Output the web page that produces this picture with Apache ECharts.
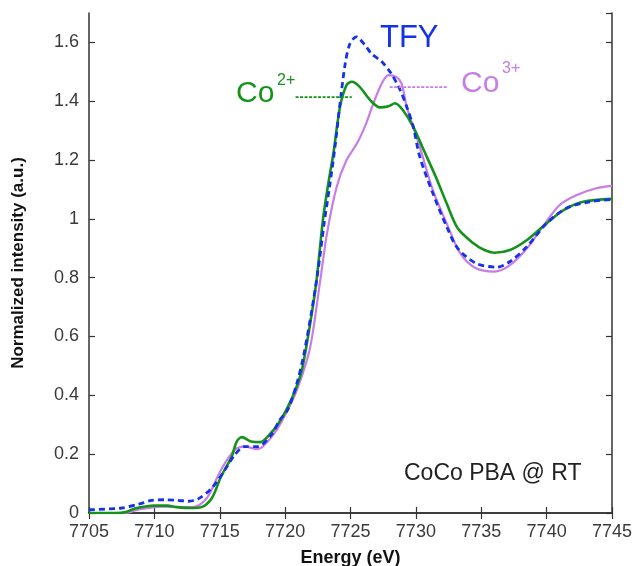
<!DOCTYPE html>
<html>
<head>
<meta charset="utf-8">
<script src="https://cdn.jsdelivr.net/npm/echarts@6/dist/echarts.min.js"></script>
<style>
  html, body { margin: 0; padding: 0; background: #fff; }
  #chart { width: 635px; height: 566px; }
</style>
</head>
<body>
<div id="chart"></div>
<script>
// Co2+ reference (green)
const co2Energy = [7705, 7707, 7707.8, 7708.5, 7709.3, 7710, 7711, 7711.7, 7712.8, 7713.6, 7714.4, 7715.1, 7715.9, 7716.3, 7716.7, 7717.4, 7718.1, 7718.8, 7719.5, 7720.2, 7720.8, 7721.3, 7721.9, 7722.4, 7722.9, 7723.3, 7723.7, 7724.2, 7724.7, 7725.1, 7725.7, 7726.5, 7727.25, 7727.9, 7728.4, 7729.0, 7729.8, 7730.6, 7731.6, 7732.35, 7733.2, 7734.4, 7735.2, 7736.0, 7737.2, 7738.5, 7740.0, 7741.3, 7742.8, 7745];
const co2Value = [0.0, 0.0, 0.003, 0.015, 0.022, 0.025, 0.025, 0.02, 0.017, 0.02, 0.051, 0.124, 0.19, 0.243, 0.258, 0.243, 0.241, 0.266, 0.305, 0.36, 0.42, 0.49, 0.64, 0.79, 1.0, 1.12, 1.225, 1.381, 1.455, 1.466, 1.449, 1.404, 1.379, 1.383, 1.393, 1.37, 1.313, 1.234, 1.135, 1.053, 0.968, 0.917, 0.895, 0.885, 0.894, 0.928, 0.985, 1.03, 1.058, 1.068];

// TFY (blue dashed)
const tfyEnergy = [7705, 7707.5, 7708.8, 7709.8, 7710.8, 7711.8, 7712.6, 7713.35, 7714.4, 7715.4, 7716.15, 7716.9, 7717.9, 7718.95, 7719.6, 7720.2, 7720.9, 7721.4, 7722.0, 7722.5, 7723.0, 7723.4, 7723.8, 7724.2, 7724.6, 7724.96, 7725.45, 7726.1, 7726.6, 7727.4, 7728.1, 7728.8, 7729.3, 7729.8, 7730.3, 7731.3, 7732.35, 7733.2, 7734.6, 7736.2, 7737.2, 7738.5, 7740.0, 7741.5, 7743.3, 7745];
const tfyValue = [0.011, 0.017, 0.03, 0.043, 0.045, 0.043, 0.04, 0.048, 0.085, 0.147, 0.198, 0.226, 0.226, 0.266, 0.317, 0.351, 0.441, 0.532, 0.679, 0.82, 0.99, 1.11, 1.24, 1.393, 1.529, 1.596, 1.619, 1.591, 1.562, 1.534, 1.495, 1.438, 1.381, 1.313, 1.211, 1.087, 0.974, 0.9, 0.849, 0.836, 0.855, 0.906, 0.985, 1.036, 1.058, 1.066];

// Co3+ reference (violet)
const co3Energy = [7705, 7707.8, 7708.8, 7710.0, 7710.6, 7712.6, 7713.35, 7714.1, 7715.1, 7716.15, 7716.9, 7717.9, 7718.3, 7719.2, 7720.2, 7721.0, 7721.9, 7722.65, 7723.2, 7723.95, 7724.7, 7725.5, 7726.2, 7726.75, 7727.4, 7727.9, 7728.5, 7728.9, 7729.3, 7729.8, 7730.3, 7731.3, 7732.35, 7733.4, 7734.6, 7736.0, 7737.2, 7738.5, 7739.7, 7741.0, 7742.3, 7743.8, 7745];
const co3Value = [0.0, 0.0, 0.012, 0.02, 0.022, 0.02, 0.025, 0.056, 0.147, 0.215, 0.226, 0.217, 0.226, 0.272, 0.35, 0.43, 0.56, 0.78, 0.95, 1.11, 1.2, 1.257, 1.325, 1.393, 1.461, 1.489, 1.483, 1.461, 1.381, 1.313, 1.245, 1.098, 0.985, 0.883, 0.832, 0.821, 0.843, 0.9, 0.974, 1.047, 1.081, 1.104, 1.112];

// dotted leader lines next to the labels
const co2LeaderEnergy = [7720.8, 7725.1];
const co2LeaderValue = [1.414, 1.414];
const co3LeaderEnergy = [7728.0, 7732.4];
const co3LeaderValue = [1.448, 1.448];

const xTicks = [7705, 7745, 5];   // min, max, step
const yTicks = [0, 1.7, 0.2];

const GREEN = '#14921a';
const BLUE = '#1433e6';
const VIOLET = '#c77ce6';
const FONT = '"Liberation Sans", Arial, sans-serif';

function pairs(xs, ys) {
  return xs.map((x, i) => [x, ys[i]]);
}

const axisLine = { lineStyle: { color: '#333', width: 1.5 } };
const tick = { inside: true, length: 6, lineStyle: { color: '#333', width: 1.2 } };

let option = {
  animation: false,
  backgroundColor: '#fff',
  grid: { left: 89, right: 23, top: 13, bottom: 53, outerBoundsMode: 'none' },
  xAxis: [
    {
      type: 'value', min: xTicks[0], max: xTicks[1], interval: xTicks[2],
      position: 'bottom',
      name: 'Energy (eV)', nameLocation: 'middle', nameGap: 36,
      nameTextStyle: { fontFamily: FONT, fontSize: 18, fontWeight: 'bold', color: '#111' },
      axisLine: axisLine, axisTick: tick, splitLine: { show: false },
      axisLabel: { fontFamily: FONT, fontSize: 18, color: '#3a3a3a', margin: 10, formatter: v => String(v) }
    },
    {
      type: 'value', min: xTicks[0], max: xTicks[1], interval: xTicks[2],
      position: 'top',
      axisLine: axisLine, axisTick: tick, splitLine: { show: false },
      axisLabel: { show: false }
    }
  ],
  yAxis: [
    {
      type: 'value', min: yTicks[0], max: yTicks[1], interval: yTicks[2],
      position: 'left',
      name: 'Normalized intensity (a.u.)', nameLocation: 'middle', nameGap: 62,
      nameTextStyle: { fontFamily: FONT, fontSize: 17, fontWeight: 'bold', color: '#111' },
      axisLine: axisLine, axisTick: tick, splitLine: { show: false },
      axisLabel: {
        fontFamily: FONT, fontSize: 18, color: '#3a3a3a', margin: 10,
        showMaxLabel: false,
        formatter: v => String(+v.toFixed(2))
      }
    },
    {
      type: 'value', min: yTicks[0], max: yTicks[1], interval: yTicks[2],
      position: 'right',
      axisLine: axisLine, axisTick: tick, splitLine: { show: false },
      axisLabel: { show: false }
    }
  ],
  series: [
    {
      name: 'Co3+', type: 'line', showSymbol: false, smooth: 0.3,
      data: pairs(co3Energy, co3Value),
      lineStyle: { color: VIOLET, width: 2.2 }
    },
    {
      name: 'Co2+', type: 'line', showSymbol: false, smooth: 0.3,
      data: pairs(co2Energy, co2Value),
      lineStyle: { color: GREEN, width: 2.6 }
    },
    {
      name: 'TFY', type: 'line', showSymbol: false, smooth: 0.3,
      data: pairs(tfyEnergy, tfyValue),
      lineStyle: { color: BLUE, width: 2.8, type: [6, 4] }
    },
    {
      name: 'co2-leader', type: 'line', showSymbol: false,
      data: pairs(co2LeaderEnergy, co2LeaderValue),
      lineStyle: { color: GREEN, width: 1.8, type: [3, 1.5] }
    },
    {
      name: 'co3-leader', type: 'line', showSymbol: false,
      data: pairs(co3LeaderEnergy, co3LeaderValue),
      lineStyle: { color: VIOLET, width: 1.8, type: [3, 1.5] }
    }
  ],
  graphic: [
    { type: 'text', left: 380, top: 23, style: { text: 'TFY', fill: BLUE, font: '31px ' + FONT } },
    { type: 'text', left: 236, top: 79, style: { text: 'Co', fill: GREEN, font: '30px ' + FONT } },
    { type: 'text', left: 277, top: 73, style: { text: '2+', fill: GREEN, font: '16px ' + FONT } },
    { type: 'text', left: 461, top: 69, style: { text: 'Co', fill: VIOLET, font: '30px ' + FONT } },
    { type: 'text', left: 502, top: 61, style: { text: '3+', fill: VIOLET, font: '16px ' + FONT } },
    { type: 'text', left: 404, top: 462, style: { text: 'CoCo PBA @ RT', fill: '#222', font: '23px ' + FONT } }
  ]
};

let myChart = echarts.init(document.getElementById('chart'));
myChart.setOption(option);
</script>
</body>
</html>
